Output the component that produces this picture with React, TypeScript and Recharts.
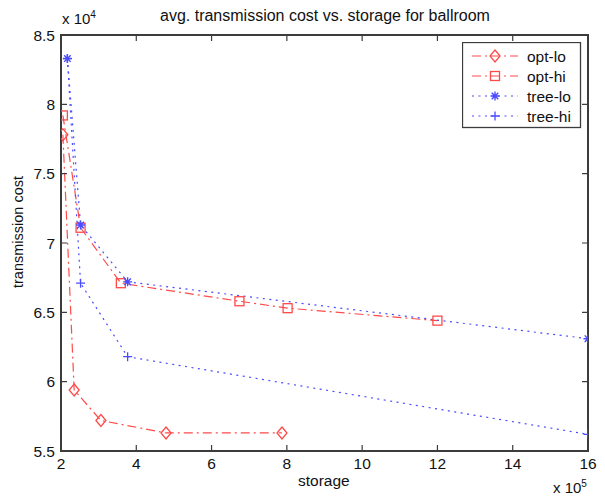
import { ComposedChart, Line, XAxis, YAxis, ReferenceArea } from "recharts";

// storage in units of 1e5, transmission cost in units of 1e4
const OPT_LO_X = [2.05, 2.35, 3.06, 4.79, 7.87];
const OPT_LO_Y = [7.78, 5.94, 5.72, 5.63, 5.63];
const OPT_HI_X = [2.05, 2.52, 3.59, 6.74, 8.02, 12.0];
const OPT_HI_Y = [7.92, 7.11, 6.71, 6.58, 6.53, 6.44];
const TREE_LO_X = [2.17, 2.52, 3.77, 16];
const TREE_LO_Y = [8.33, 7.13, 6.72, 6.31];
const TREE_HI_X = [2.17, 2.52, 3.77, 16];
const TREE_HI_Y = [8.33, 6.71, 6.18, 5.62];

const X_TICKS = [2, 4, 6, 8, 10, 12, 14, 16];
const Y_TICKS = [5.5, 6, 6.5, 7, 7.5, 8, 8.5];

const W = 605;
const H = 497;
const LEFT = 61;
const RIGHT = 588;
const TOP = 35;
const BOTTOM = 451;

const RED = "#ff4a4a";
const BLUE = "#4b4bff";
const AXIS = "#3c3c3c";
const FONT = "'Liberation Sans', Arial, sans-serif";
const DASHDOT = "9 4 2 4";
const DOTTED = "2 4.5";

const toPoints = (xs: number[], ys: number[]) => xs.map((x, i) => ({ x, y: ys[i] }));

type MarkerKind = "diamond" | "square" | "star" | "plus";

function Marker({ kind, cx, cy, color }: { kind: MarkerKind; cx: number; cy: number; color: string }) {
  if (kind === "diamond")
    return <path d={`M${cx},${cy - 6}L${cx + 5},${cy}L${cx},${cy + 6}L${cx - 5},${cy}Z`} fill="none" stroke={color} strokeWidth={1.3} />;
  if (kind === "square")
    return <rect x={cx - 4.5} y={cy - 4.5} width={9} height={9} fill="none" stroke={color} strokeWidth={1.3} />;
  if (kind === "plus")
    return <path d={`M${cx - 4.5},${cy}H${cx + 4.5}M${cx},${cy - 4.5}V${cy + 4.5}`} stroke={color} strokeWidth={1.3} />;
  return (
    <path
      d={`M${cx - 4.5},${cy}H${cx + 4.5}M${cx},${cy - 4.5}V${cy + 4.5}M${cx - 3.3},${cy - 3.3}L${cx + 3.3},${cy + 3.3}M${cx - 3.3},${cy + 3.3}L${cx + 3.3},${cy - 3.3}`}
      stroke={color}
      strokeWidth={1.4}
    />
  );
}

const SERIES = [
  { name: "opt-lo", data: toPoints(OPT_LO_X, OPT_LO_Y), color: RED, dash: DASHDOT, kind: "diamond" as MarkerKind },
  { name: "opt-hi", data: toPoints(OPT_HI_X, OPT_HI_Y), color: RED, dash: DASHDOT, kind: "square" as MarkerKind },
  { name: "tree-lo", data: toPoints(TREE_LO_X, TREE_LO_Y), color: BLUE, dash: DOTTED, kind: "star" as MarkerKind },
  { name: "tree-hi", data: toPoints(TREE_HI_X, TREE_HI_Y), color: BLUE, dash: DOTTED, kind: "plus" as MarkerKind },
];

function YTick({ y, payload }: any) {
  return (
    <g>
      <text x={LEFT - 6} y={y + 5.5} textAnchor="end" fontSize={15.5} fontFamily={FONT} fill="#111">
        {payload.value}
      </text>
      <path d={`M${LEFT},${y}h6M${RIGHT},${y}h-6`} stroke={AXIS} strokeWidth={1.2} fill="none" />
    </g>
  );
}

function XTick({ x, payload }: any) {
  return (
    <g>
      <text x={x} y={BOTTOM + 18} textAnchor="middle" fontSize={15.5} fontFamily={FONT} fill="#111">
        {payload.value}
      </text>
      <path d={`M${x},${BOTTOM}v-6M${x},${TOP}v6`} stroke={AXIS} strokeWidth={1.2} fill="none" />
    </g>
  );
}

function LegendBox() {
  return (
    <svg width={120} height={87} style={{ display: "block" }}>
      <rect x={0.5} y={0.5} width={118} height={85} fill="#fff" stroke={AXIS} strokeWidth={1.3} />
      {SERIES.map((s, i) => {
        const cy = 14 + i * 20;
        return (
          <g key={s.name}>
            <line x1={10} x2={56} y1={cy} y2={cy} stroke={s.color} strokeDasharray={s.dash} strokeWidth={1.2} />
            <Marker kind={s.kind} cx={33} cy={cy} color={s.color} />
            <text x={65} y={cy + 5.5} fontSize={15.5} fontFamily={FONT} fill="#111">
              {s.name}
            </text>
          </g>
        );
      })}
    </svg>
  );
}

export default function App() {
  return (
    <div style={{ position: "absolute", left: 0, top: 0, width: W, height: H, background: "#fff", fontFamily: FONT }}>
      <ComposedChart width={W} height={H} margin={{ top: TOP, right: W - RIGHT, bottom: 16, left: 16 }}>
        <XAxis
          type="number"
          dataKey="x"
          domain={[2, 16]}
          ticks={X_TICKS}
          height={30}
          tickLine={false}
          tickSize={0}
          tick={<XTick />}
          axisLine={{ stroke: AXIS, strokeWidth: 2 }}
          allowDataOverflow
        />
        <YAxis
          type="number"
          dataKey="y"
          domain={[5.5, 8.5]}
          ticks={Y_TICKS}
          width={45}
          tickLine={false}
          tickSize={0}
          tick={<YTick />}
          axisLine={{ stroke: AXIS, strokeWidth: 2 }}
          allowDataOverflow
        />
        <ReferenceArea x1={2} x2={16} y1={5.5} y2={8.5} fill="none" stroke={AXIS} strokeWidth={2} ifOverflow="visible" />
        {SERIES.map((s) => (
          <Line
            key={s.name}
            name={s.name}
            data={s.data}
            dataKey="y"
            type="linear"
            stroke={s.color}
            strokeWidth={1.2}
            strokeDasharray={s.dash}
            isAnimationActive={false}
            dot={(p: any) => <Marker key={`${s.name}-${p.index}`} kind={s.kind} cx={p.cx} cy={p.cy} color={s.color} />}
            activeDot={false}
          />
        ))}
      </ComposedChart>
      <div style={{ position: "absolute", left: 462, top: 42 }}>
        <LegendBox />
      </div>
      <div style={{ position: "absolute", left: 160, top: 7, fontSize: 16, color: "#111", whiteSpace: "nowrap" }}>
        avg. transmission cost vs. storage for ballroom
      </div>
      <div style={{ position: "absolute", left: 62, top: 9, fontSize: 15, color: "#111" }}>
        x 10<sup style={{ fontSize: 10 }}>4</sup>
      </div>
      <div style={{ position: "absolute", left: 553, top: 478, fontSize: 15, color: "#111" }}>
        x 10<sup style={{ fontSize: 10 }}>5</sup>
      </div>
      <div style={{ position: "absolute", left: 298, top: 472, fontSize: 15.5, color: "#111" }}>
        storage
      </div>
      <div
        style={{
          position: "absolute",
          left: 18,
          top: 232,
          fontSize: 14.5,
          color: "#111",
          whiteSpace: "nowrap",
          transform: "translate(-50%, -50%) rotate(-90deg)",
        }}
      >
        transmission cost
      </div>
    </div>
  );
}
